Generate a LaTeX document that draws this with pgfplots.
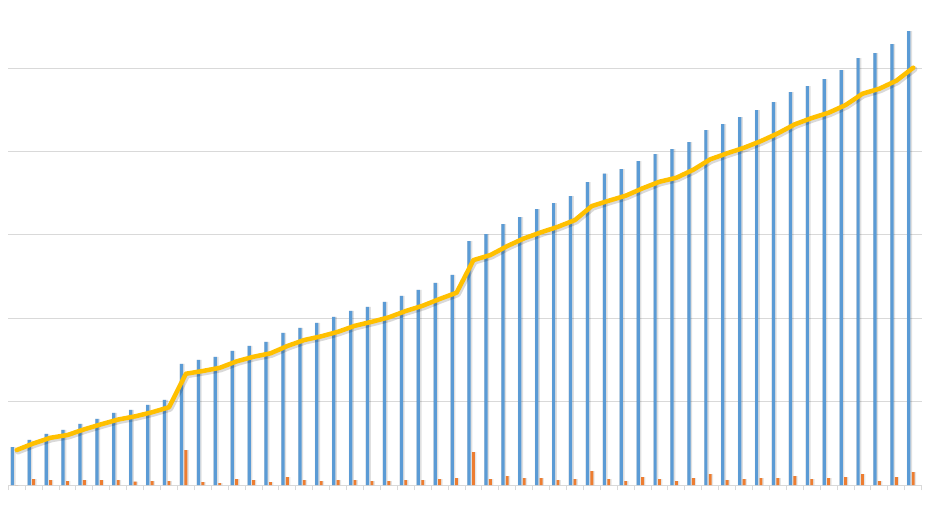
\documentclass[border=0pt]{standalone}
\usepackage{pgfplots}
\usepackage{pgfplotstable}
\pgfplotsset{compat=1.18}
\definecolor{cblue}{HTML}{5B9BD5}
\definecolor{corange}{HTML}{ED7D31}
\definecolor{cyellow}{HTML}{FFC000}
\definecolor{cgrid}{HTML}{D9D9D9}
\pgfplotstableread{
x blue orange line
1 0.456 0.000 0.420
2 0.540 0.072 0.500
3 0.612 0.060 0.567
4 0.660 0.048 0.600
5 0.732 0.060 0.669
6 0.792 0.060 0.729
7 0.864 0.060 0.786
8 0.900 0.040 0.824
9 0.960 0.048 0.873
10 1.020 0.048 0.933
11 1.452 0.420 1.335
12 1.500 0.036 1.368
13 1.536 0.024 1.406
14 1.608 0.072 1.484
15 1.668 0.060 1.539
16 1.716 0.036 1.580
17 1.824 0.096 1.668
18 1.884 0.060 1.740
19 1.944 0.048 1.784
20 2.016 0.060 1.839
21 2.088 0.060 1.911
22 2.136 0.048 1.959
23 2.196 0.048 2.012
24 2.268 0.060 2.088
25 2.340 0.060 2.151
26 2.424 0.072 2.232
27 2.520 0.084 2.307
28 2.927 0.396 2.699
29 3.011 0.072 2.759
30 3.131 0.108 2.867
31 3.215 0.084 2.960
32 3.311 0.084 3.032
33 3.383 0.060 3.099
34 3.467 0.072 3.179
35 3.635 0.168 3.347
36 3.735 0.072 3.411
37 3.791 0.048 3.471
38 3.887 0.096 3.560
39 3.971 0.072 3.639
40 4.031 0.048 3.687
41 4.115 0.084 3.783
42 4.259 0.132 3.908
43 4.331 0.060 3.980
44 4.415 0.072 4.047
45 4.499 0.084 4.127
46 4.595 0.084 4.220
47 4.715 0.108 4.328
48 4.787 0.072 4.403
49 4.871 0.084 4.467
50 4.979 0.096 4.559
51 5.123 0.132 4.695
52 5.183 0.048 4.755
53 5.291 0.096 4.851
54 5.447 0.156 5.007
}\datatable
\begin{document}
\begin{tikzpicture}
\path[use as bounding box] (-8.3pt,-22pt) rectangle (916.7pt,485pt);
\begin{axis}[
  at={(0pt,0pt)}, anchor=south west,
  scale only axis, width=913.4pt, height=483.4pt,
  xmin=0.5, xmax=54.5, ymin=0, ymax=5.8,
  axis x line*=bottom, axis y line*=left,
  x axis line style={draw=cgrid, line width=1pt},
  y axis line style={draw=none},
  xtick={0.5,1.5,...,54.5}, xticklabels={},
  tick align=outside, major tick length=5pt,
  xtick style={draw=cgrid, line width=1pt},
  ytick={1,2,3,4,5}, yticklabels={},
  ymajorgrids, grid style={draw=cgrid, line width=1pt},
  ytick style={draw=none},
  clip=false,
]
\addplot[ybar, bar width=0.30, bar shift=-0.22, fill=black, draw=none, opacity=0.12] table[x=x, y=blue] {\datatable};
\addplot[ybar, bar width=0.19, bar shift=-0.26, fill=cblue, draw=none] table[x=x, y=blue] {\datatable};
\addplot[ybar, bar width=0.26, bar shift=0.04, fill=black, draw=none, opacity=0.10] table[x=x, y=orange] {\datatable};
\addplot[ybar, bar width=0.17, bar shift=0, fill=corange, draw=none] table[x=x, y=orange] {\datatable};
\addplot[sharp plot, no markers, draw=black, opacity=0.15, line width=6pt, line join=round, line cap=round, xshift=1.2pt, yshift=-1.5pt] table[x=x, y=line] {\datatable};
\addplot[sharp plot, no markers, draw=cyellow, line width=4.5pt, line join=round, line cap=round] table[x=x, y=line] {\datatable};
\end{axis}
\end{tikzpicture}
\end{document}
